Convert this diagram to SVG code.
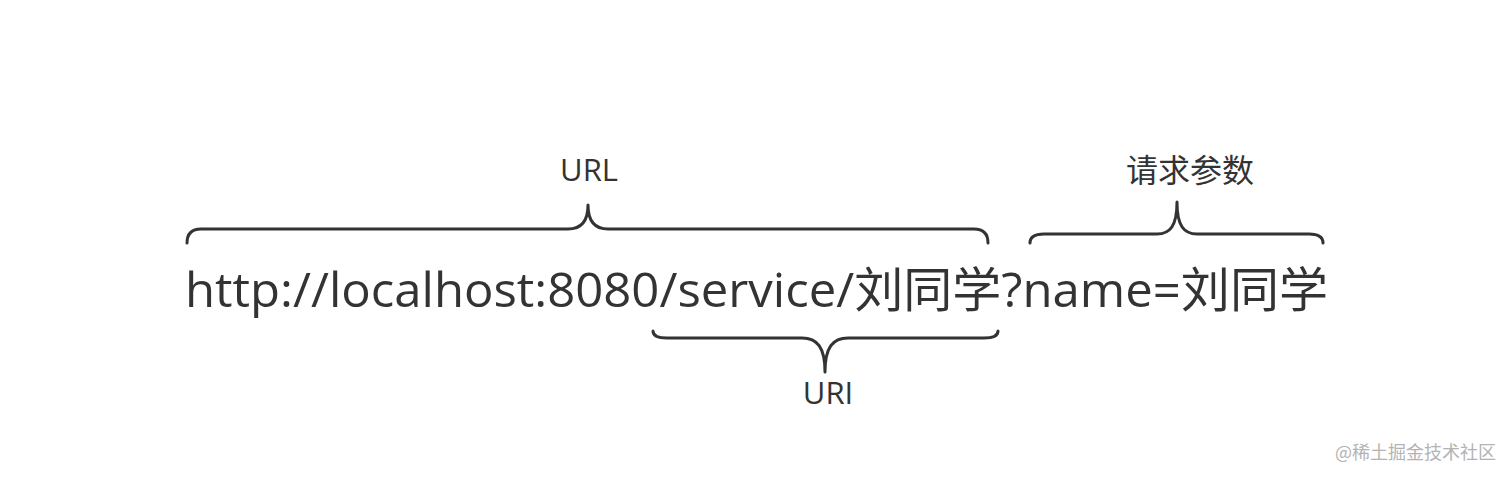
<svg xmlns="http://www.w3.org/2000/svg" width="1512" height="479" viewBox="0 0 1512 479">
<style>
.t{font-family:"Open Sans","Noto Sans CJK SC",sans-serif;fill:#333}
.b{fill:none;stroke:#333;stroke-width:3;stroke-linecap:round;stroke-linejoin:round}
.w{font-family:"Noto Sans CJK SC",sans-serif;fill:#b3b3b3}
</style>
<rect width="1512" height="479" fill="#fff"/>
<g id="url-text">
<text class="t" x="185" y="307" font-size="48" textLength="1143" lengthAdjust="spacingAndGlyphs">http://localhost:8080/service/刘同学?name=刘同学</text>
</g>
<g id="connectors">
<path class="b" d="M187,243 Q187,229 201,229 H568 C581,229 588,222 588,205 C588,222 595,229 608,229 H974 Q988,229 988,243"/>
<path class="b" d="M653,331 Q653,338 667,338 H802 C817,338 825,347 825,372 C825,347 833,338 848,338 H984 Q998,338 998,331"/>
<path class="b" d="M1030,243 Q1030,234 1044,234 H1157 C1170,234 1177,226 1177,202 C1177,226 1184,234 1197,234 H1309 Q1323,234 1323,243"/>
</g>
<g id="label-url"><text class="t" x="589" y="181" font-size="31" text-anchor="middle">URL</text></g>
<g id="label-params"><text class="t" x="1190" y="182" font-size="32" text-anchor="middle">请求参数</text></g>
<g id="label-uri"><text class="t" x="828" y="404" font-size="31" text-anchor="middle">URI</text></g>
<text class="w" x="1335" y="459" font-size="18">@稀土掘金技术社区</text>
</svg>
